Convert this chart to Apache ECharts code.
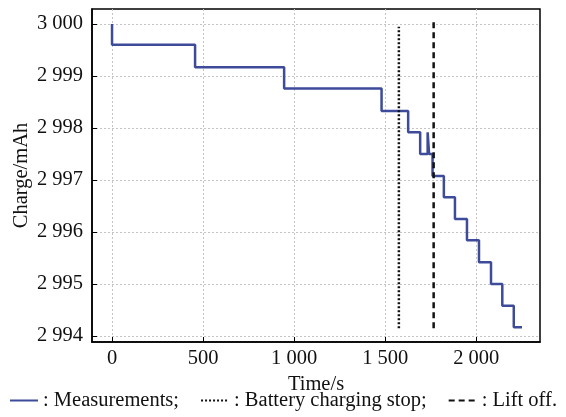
<!DOCTYPE html>
<html>
<head>
<meta charset="utf-8">
<script src="https://cdn.jsdelivr.net/npm/echarts@6/dist/echarts.min.js"></script>
<style>
  html, body { margin: 0; padding: 0; background: #fff; }
  #chart { width: 566px; height: 417px; }
</style>
</head>
<body>
<div id="chart"></div>
<script>
// step points: time (s) where the charge changes, and the new charge (mAh)
const stepTimes = [0, 0, 456, 945, 1480, 1626, 1692, 1733, 1741, 1760, 1822, 1883, 1949, 2015, 2081, 2143, 2206, 2251]
const stepCharge = [3000, 2999.6, 2999.17, 2998.76, 2998.33, 2997.92, 2997.5, 2997.92, 2997.5, 2997.08, 2996.67, 2996.25, 2995.84, 2995.42, 2995.0, 2994.58, 2994.17, 2994.17]

// event markers (vertical lines)
const chargingStopTime = [1575, 1575]
const chargingStopCharge = [2994.15, 2999.95]
const liftOffTime = [1766, 1766]
const liftOffCharge = [2994.15, 3000.04]

const xTicks = [0, 500, 1000, 1500, 2000]
const yTicks = [2994, 2995, 2996, 2997, 2998, 2999, 3000]

const font = 'Liberation Serif'
const fontSize = 20.5
const spaced = v => String(Math.round(v)).replace(/\B(?=(\d{3})+(?!\d))/g, ' ')
const pairs = (xs, ys) => xs.map((x, i) => [x, ys[i]])

const chart = echarts.init(document.getElementById('chart'))

const gridLine = { show: true, lineStyle: { color: '#c4c4c4', type: [2, 2], width: 1 } }

chart.setOption({
    animation: false,
    backgroundColor: '#fff',
    grid: {
        left: 92,
        right: 26,
        top: 9,
        bottom: 75,
        outerBoundsMode: 'none',
        containLabel: false,
        show: true,
        borderColor: '#000',
        borderWidth: 1.5,
        backgroundColor: 'transparent'
    },
    legend: {
        bottom: 1,
        left: 'center',
        itemWidth: 28,
        itemGap: 21,
        itemStyle: { opacity: 0 },
        textStyle: { fontFamily: font, fontSize: fontSize, color: '#111' },
        data: [': Measurements;', ': Battery charging stop;', ': Lift off.']
    },
    xAxis: {
        type: 'value',
        min: -110,
        max: 2350,
        name: 'Time/s',
        nameLocation: 'middle',
        nameGap: 27,
        nameTextStyle: { fontFamily: font, fontSize: fontSize, color: '#111', verticalAlign: 'top' },
        axisLine: { show: true, onZero: false, lineStyle: { color: '#000', width: 1.5 } },
        axisTick: { show: true, inside: true, length: 5, customValues: xTicks, lineStyle: { color: '#000' } },
        axisLabel: { customValues: xTicks, formatter: spaced, margin: 6, fontFamily: font, fontSize: fontSize, color: '#111' },
        splitLine: gridLine
    },
    yAxis: {
        type: 'value',
        min: 2993.885,
        max: 3000.29,
        name: 'Charge/mAh',
        nameLocation: 'middle',
        nameRotate: 90,
        nameGap: 60,
        nameMoveOverlap: false,
        nameTextStyle: { fontFamily: font, fontSize: fontSize, color: '#111' },
        axisLine: { show: true, onZero: false, lineStyle: { color: '#000', width: 1.5 } },
        axisTick: { show: true, inside: true, length: 5, customValues: yTicks, lineStyle: { color: '#000' } },
        axisLabel: { customValues: yTicks, formatter: spaced, margin: 9, fontFamily: font, fontSize: fontSize, color: '#111' },
        splitLine: gridLine
    },
    series: [
        {
            name: ': Measurements;',
            type: 'line',
            step: 'end',
            symbol: 'none',
            lineStyle: { color: '#3d4b9a', width: 2.5 },
            itemStyle: { color: '#3d4b9a' },
            data: pairs(stepTimes, stepCharge),
            z: 3
        },
        {
            name: ': Battery charging stop;',
            type: 'line',
            symbol: 'none',
            lineStyle: { color: '#111', width: 2.5, type: [2, 2] },
            itemStyle: { color: '#111' },
            data: pairs(chargingStopTime, chargingStopCharge)
        },
        {
            name: ': Lift off.',
            type: 'line',
            symbol: 'none',
            lineStyle: { color: '#111', width: 2.5, type: [6, 4] },
            itemStyle: { color: '#111' },
            data: pairs(liftOffTime, liftOffCharge)
        }
    ]
})
</script>
</body>
</html>
